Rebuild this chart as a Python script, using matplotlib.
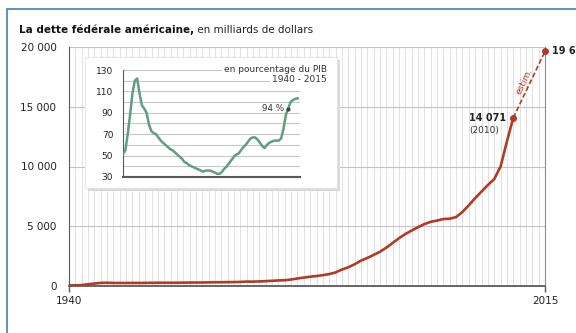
import matplotlib
matplotlib.use('Agg')
import matplotlib.pyplot as plt
from matplotlib.patches import Rectangle
import numpy as np

# dette fédérale, milliards de dollars
years = list(range(1940, 2011))
debt = [51, 58, 79, 143, 204, 260, 271, 257, 252, 253,
        257, 255, 259, 266, 271, 274, 273, 272, 280, 288,
        291, 293, 303, 310, 316, 322, 329, 340, 369, 366,
        381, 408, 436, 466, 484, 542, 629, 706, 777, 830,
        909, 995, 1137, 1372, 1565, 1817, 2121, 2346, 2601, 2868,
        3206, 3598, 4002, 4351, 4643, 4921, 5182, 5369, 5478, 5606,
        5629, 5770, 6198, 6760, 7355, 7905, 8451, 8951, 9990, 12100,
        14071]
est_years = [2010, 2015]
est_debt = [14071, 19636]

# en pourcentage du PIB
pib_years = list(range(1940, 2015))
pib_pct = [51, 55, 70, 88, 108, 120, 122, 108, 97, 94,
           90, 79, 73, 71, 70, 67, 64, 62, 60, 58,
           56, 55, 53, 51, 49, 47, 44, 43, 41, 40,
           39, 38, 37, 36, 35, 36, 36, 36, 35, 34,
           33, 33, 35, 38, 40, 43, 46, 49, 51, 52,
           55, 58, 60, 63, 66, 67, 67, 65, 62, 59,
           57, 60, 62, 63, 64, 64, 64, 66, 75, 88,
           94, 100, 102, 103, 103.5]

RED = '#b23a24'
GREEN = '#5f9e80'
DARK = '#5a5a5a'

plt.rcParams['font.family'] = ['DejaVu Sans']

fig = plt.figure(figsize=(5.76, 3.33), dpi=100)
W, H = 576.0, 333.0

def fx(px):
    return px / W

def fy(py):
    return 1 - py / H

# blue frame
fig.patches.append(Rectangle((fx(7), -0.1), 1.2, fy(9) + 0.1, transform=fig.transFigure,
                             facecolor='none', edgecolor='#3f7fc6', lw=1.2, zorder=0))

ax = fig.add_axes([fx(69), fy(286), fx(545) - fx(69), fy(47) - fy(286)])
ax.set_xlim(1940, 2015)
ax.set_ylim(0, 20000)
for yr in range(1941, 2015):
    ax.axvline(yr, color='#dcdcdc', lw=0.6, zorder=0)
for v in [5000, 10000, 15000, 20000]:
    ax.axhline(v, color='#c4c4c4', lw=0.8, zorder=0)

ax.plot(years, debt, color=RED, lw=1.9, zorder=3)
ax.plot(est_years, est_debt, color=RED, lw=1.2, ls=(0, (3, 1.5)), zorder=3)
ax.plot(est_years, est_debt, 'o', color=RED, ms=4, zorder=4, clip_on=False)

ax.set_xticks([1940, 2015])
ax.set_yticks([0, 5000, 10000, 15000, 20000])
ax.set_yticklabels(['0', '5 000', '10 000', '15 000', '20 000'])
ax.tick_params(axis='y', length=0, pad=9, labelsize=7.5, labelcolor='#222')
ax.tick_params(axis='x', length=4, width=1, color=DARK, pad=3, labelsize=7.5, labelcolor='#222')
ax.spines['top'].set_visible(False)
ax.spines['left'].set_color(DARK)
ax.spines['bottom'].set_color(DARK)
ax.spines['bottom'].set_linewidth(1.3)
ax.spines['right'].set_color('#8a8a8a')

ax.annotate('14 071', xy=(2010, 14071), xytext=(-32, 0), textcoords='offset points',
            ha='left', va='center', fontsize=7, fontweight='bold', color='#222')
ax.annotate('(2010)', xy=(2010, 14071), xytext=(-32, -9), textcoords='offset points',
            ha='left', va='center', fontsize=6.5, color='#333')
ax.annotate('19 636', xy=(2015, 19636), xytext=(5, 0), textcoords='offset points',
            ha='left', va='center', fontsize=7, fontweight='bold', color='#222',
            annotation_clip=False)
ax.annotate('estim.', xy=(2012.6, 16900), xytext=(-4, 2), textcoords='offset points',
            ha='center', va='center', fontsize=6.5, color=RED, rotation=64)

# title
t1 = fig.text(fx(19), fy(30), 'La dette fédérale américaine,', fontsize=7.5,
              fontweight='bold', va='center', ha='left', color='#111')
ax.annotate(' en milliards de dollars', xy=(1, 0.5), xycoords=t1, va='center', ha='left',
            fontsize=7.5, color='#222', annotation_clip=False)

# inset box + shadow
bx0, by0, bx1, by1 = 85, 57, 337, 188
fig.patches.append(Rectangle((fx(bx0 + 3), fy(by1 + 3)), fx(bx1) - fx(bx0), fy(by0) - fy(by1),
                             transform=fig.transFigure, facecolor='#d9d9d9',
                             edgecolor='none', zorder=1))
fig.patches.append(Rectangle((fx(bx0), fy(by1)), fx(bx1) - fx(bx0), fy(by0) - fy(by1),
                             transform=fig.transFigure, facecolor='white',
                             edgecolor='#e2e2e2', lw=0.6, zorder=1.5))

ins = fig.add_axes([fx(123), fy(177), fx(300) - fx(123), fy(70) - fy(177)], zorder=3)
ins.patch.set_alpha(0)
ins.set_xlim(1940, 2015)
ins.set_ylim(30, 130)
for v in range(40, 131, 10):
    ins.axhline(v, color='#c8c8c8', lw=0.8, zorder=0)
ins.plot(pib_years, pib_pct, color=GREEN, lw=1.8, zorder=3)
ins.plot([2010], [94], 'o', color='#2f4f40', ms=2, zorder=4)
ins.set_xticks([])
ins.set_yticks([30, 50, 70, 90, 110, 130])
ins.tick_params(axis='y', length=0, pad=7, labelsize=6.5, labelcolor='#222')
ins.spines['top'].set_visible(False)
ins.spines['right'].set_visible(False)
ins.spines['left'].set_color(DARK)
ins.spines['bottom'].set_color(DARK)
ins.spines['bottom'].set_linewidth(1.5)
ins.annotate('94 %', xy=(2010, 94), xytext=(-3, 0), textcoords='offset points',
             ha='right', va='center', fontsize=6.3, color='#333')
bb = dict(facecolor='white', edgecolor='none', pad=1)
ins.text(1.15, 1.005, 'en pourcentage du PIB', transform=ins.transAxes, ha='right',
         va='center', fontsize=6.5, color='#333', bbox=bb, zorder=5)
ins.text(1.15, 0.91, '1940 - 2015', transform=ins.transAxes, ha='right',
         va='center', fontsize=6.5, color='#333', bbox=bb, zorder=5)

fig.savefig('out.png', dpi=100)
